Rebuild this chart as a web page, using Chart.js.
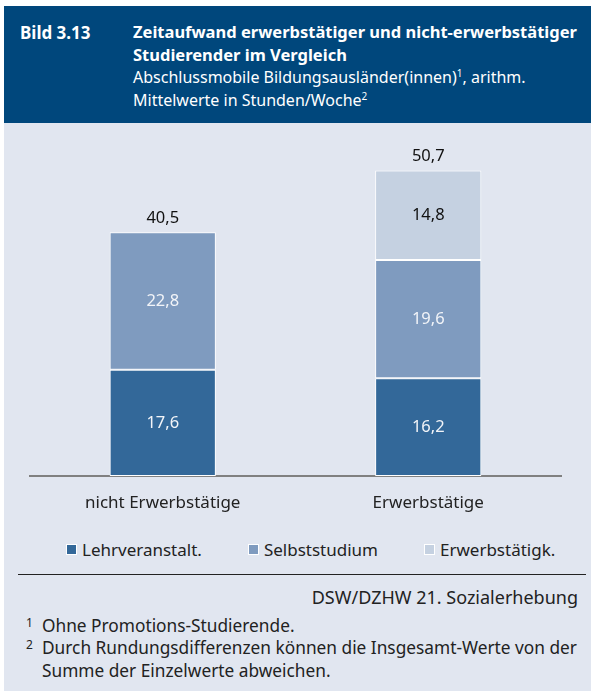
<!DOCTYPE html>
<html lang="de">
<head>
    <meta charset="UTF-8">
    <title>Bild 3.13 - Zeitaufwand</title>
    <script src="https://cdn.jsdelivr.net/npm/chart.js"></script>
    <style>
        body { margin: 0; background: #fff; font-family: "Noto Sans", sans-serif; }
        #page { position: relative; width: 591px; height: 691px; overflow: hidden; }
        #head { position: absolute; left: 4px; top: 6px; width: 587px; height: 117px; background: #00477c; color: #fff; }
        #head .nr { position: absolute; left: 16px; top: 15px; font-weight: bold; font-size: 17px; }
        #head .txt { position: absolute; left: 129px; top: 15px; right: 2px; font-size: 16px; line-height: 22.5px; }
        #head b { font-weight: bold; font-size: 16.5px; }
        sup { font-size: 10px; line-height: 0; vertical-align: 6px; }
        #body { position: absolute; left: 4px; top: 123px; width: 587px; height: 568px; background: #e1e6f0; }
        #chartBox { position: absolute; left: 0; top: 0; width: 587px; height: 410px; }
        #legend { position: absolute; left: 62px; top: 414px; height: 24px; display: flex; gap: 46px; align-items: center;
                  font-size: 17px; color: #222; }
        #legend .item { display: flex; align-items: center; white-space: nowrap; }
        #legend .box { width: 9px; height: 9px; border: 1px solid #fff; margin-right: 5px; }
        #rule { position: absolute; left: 14px; right: 5px; top: 451px; height: 0; border-top: 1.5px solid #222; }
        #source { position: absolute; right: 13px; top: 462px; font-size: 18px; color: #222; }
        .fn { position: absolute; left: 38px; right: 4px; font-size: 17.3px; line-height: 22.5px; color: #222; }
        .fn .n { position: absolute; left: -16px; top: -3px; font-size: 12px; }
    </style>
</head>
<body>
<div id="page">
    <div id="head">
        <div class="nr">Bild 3.13</div>
        <div class="txt">
            <b>Zeitaufwand erwerbstätiger und nicht-erwerbstätiger Studierender im Vergleich</b><br>
            Abschlussmobile Bildungsausländer(innen)<sup>1</sup>, arithm.<br>
            Mittelwerte in Stunden/Woche<sup>2</sup>
        </div>
    </div>
    <div id="body">
        <div id="chartBox"><canvas id="chart" width="587" height="410"></canvas></div>
        <div id="legend"></div>
        <div id="rule"></div>
        <div id="source">DSW/DZHW 21. Sozialerhebung</div>
        <div class="fn" style="top:492px"><span class="n">1</span>Ohne Promotions-Studierende.</div>
        <div class="fn" style="top:514px"><span class="n">2</span>Durch Rundungsdifferenzen können die Insgesamt-Werte von der Summe der Einzelwerte abweichen.</div>
    </div>
</div>

<script>
    // data
    const categories = ["nicht Erwerbstätige", "Erwerbstätige"];
    const seriesNames = ["Lehrveranstalt.", "Selbststudium", "Erwerbstätigk."];
    const lehrveranstaltung = [17.6, 16.2];
    const selbststudium = [22.8, 19.6];
    const erwerbstaetigkeit = [null, 14.8];
    const totals = [40.5, 50.7];

    const colors = ["#336899", "#7f9bbf", "#c5d1e1"];
    const labelColors = ["#f2f4f8", "#f2f4f8", "#111"];
    const fontFamily = "'Noto Sans', sans-serif";

    function fmt(v) {
        return v.toFixed(1).replace(".", ",");
    }

    // value labels inside the segments and totals on top
    const valueLabels = {
        id: "valueLabels",
        afterDatasetsDraw(chart) {
            const ctx = chart.ctx;
            ctx.save();
            ctx.font = "16.5px " + fontFamily;
            ctx.textAlign = "center";
            ctx.textBaseline = "middle";
            let tops = [];
            chart.data.datasets.forEach((ds, i) => {
                const meta = chart.getDatasetMeta(i);
                meta.data.forEach((bar, j) => {
                    if (ds.data[j] == null) return;
                    ctx.fillStyle = labelColors[i];
                    ctx.fillText(fmt(ds.data[j]), bar.x, (bar.y + bar.base) / 2);
                    if (tops[j] === undefined || bar.y < tops[j]) tops[j] = bar.y;
                });
            });
            ctx.fillStyle = "#111";
            const meta0 = chart.getDatasetMeta(0);
            totals.forEach((t, j) => {
                ctx.fillText(fmt(t), meta0.data[j].x, tops[j] - 14);
            });
            ctx.restore();
        }
    };

    const series = [lehrveranstaltung, selbststudium, erwerbstaetigkeit];

    // empty side axes only reserve room left and right of the plot
    function spacer(w) {
        return {
            display: true,
            grid: { display: false },
            border: { display: false },
            ticks: { display: false },
            afterFit(scale) { scale.width = w; }
        };
    }

    const chart = new Chart(document.getElementById("chart"), {
        type: "bar",
        data: {
            labels: categories,
            datasets: series.map((d, i) => ({
                label: seriesNames[i],
                data: d,
                backgroundColor: colors[i],
                borderColor: "#ffffff",
                borderWidth: 1,
                borderSkipped: false,
                barPercentage: 0.8,
                categoryPercentage: 0.5
            }))
        },
        options: {
            responsive: false,
            animation: false,
            devicePixelRatio: 1,
            layout: { padding: { left: 0, right: 0, top: 21, bottom: 12 } },
            scales: {
                x: {
                    stacked: true,
                    grid: { display: false, drawTicks: false },
                    border: { color: "#808080", width: 2 },
                    ticks: { color: "#222", font: { family: "Noto Sans", size: 17 }, padding: 17 },
                    afterFit(scale) { scale.height = 45; }
                },
                y: Object.assign(spacer(26), { stacked: true, min: 0, max: 55, position: "left" }),
                yRight: Object.assign(spacer(30), { position: "right", min: 0, max: 55 })
            },
            plugins: {
                legend: { display: false },
                tooltip: { enabled: false }
            }
        },
        plugins: [valueLabels]
    });

    // legend in one row below the chart, built from the chart's datasets
    const legendEl = document.getElementById("legend");
    chart.data.datasets.forEach(ds => {
        const item = document.createElement("div");
        item.className = "item";
        const box = document.createElement("span");
        box.className = "box";
        box.style.background = ds.backgroundColor;
        item.appendChild(box);
        item.appendChild(document.createTextNode(ds.label));
        legendEl.appendChild(item);
    });
</script>
</body>
</html>
